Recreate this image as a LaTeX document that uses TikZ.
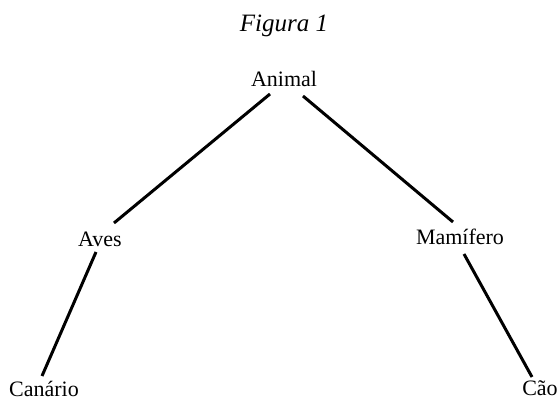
\documentclass[tikz,border=0pt]{standalone}
\usepackage{fontspec}
\setmainfont{Liberation Serif}
\begin{document}
\begin{tikzpicture}[x=1pt,y=-1pt,
  label/.style={inner sep=0pt,anchor=base,font=\fontsize{22}{26}\selectfont},
  title/.style={inner sep=0pt,anchor=base,font=\fontsize{25}{30}\selectfont\itshape},
  branch/.style={line width=3pt}]
  \useasboundingbox (0,0) rectangle (558,403);

  \node[title] (fig) at (284,32) {Figura 1};

  \node[label] (animal)   at (284,87)  {Animal};
  \node[label] (aves)     at (100,247) {Aves};
  \node[label] (mamifero) at (460,245) {Mamífero};
  \node[label] (canario)  at (44,397)  {Canário};
  \node[label] (cao)      at (540,396) {Cão};

  \draw[branch] ([shift={(-14,7)}]animal.base) -- ([shift={(14,-24)}]aves.base);
  \draw[branch] ([shift={(19,9)}]animal.base) -- ([shift={(-7,-23)}]mamifero.base);
  \draw[branch] ([shift={(-4,5)}]aves.base) -- ([shift={(-2,-21)}]canario.base);
  \draw[branch] ([shift={(4,9)}]mamifero.base) -- ([shift={(-8,-19)}]cao.base);
\end{tikzpicture}
\end{document}
